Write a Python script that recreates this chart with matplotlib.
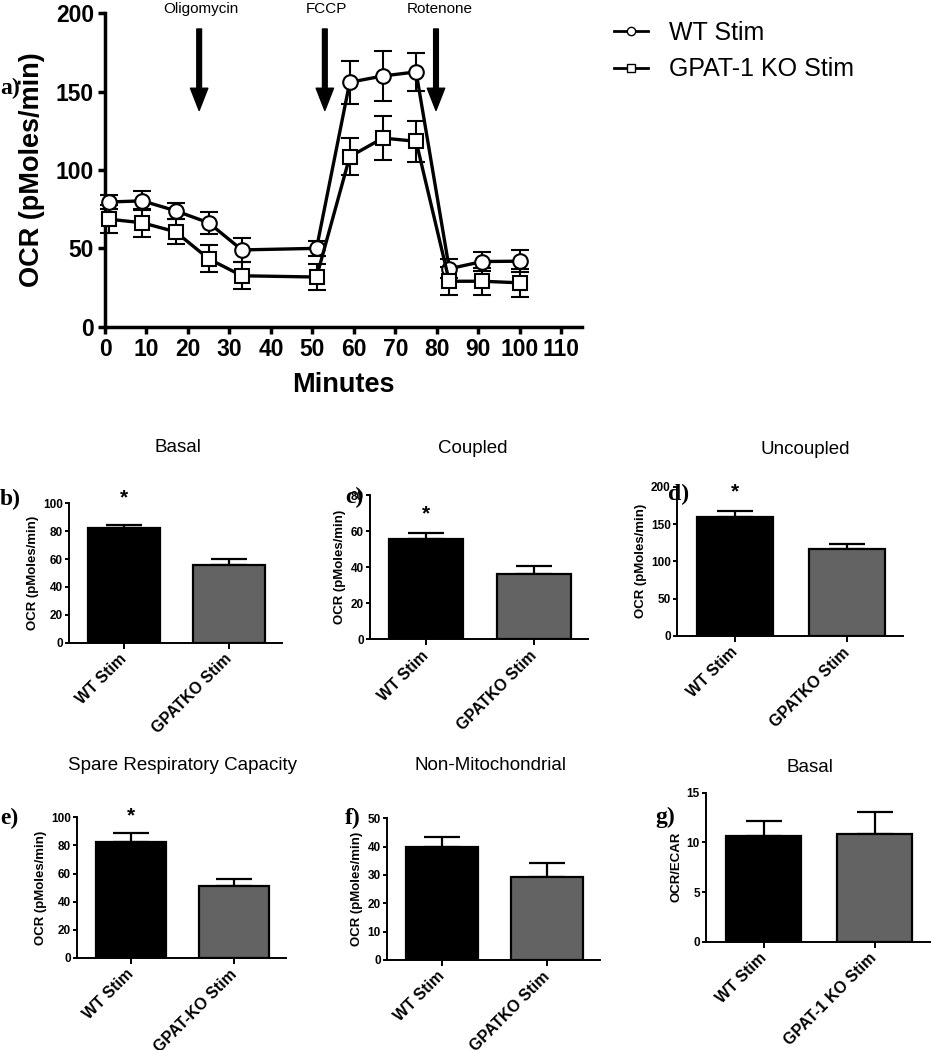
import matplotlib
matplotlib.use('Agg')
import matplotlib.pyplot as plt
from matplotlib.lines import Line2D

plt.rcParams['font.family'] = ['Liberation Sans', 'DejaVu Sans']

# time course (panel a)
minutes = [1, 9, 17, 25, 33, 51, 59, 67, 75, 83, 91, 100]
wt_ocr = [79.6, 80.3, 74.0, 66.3, 49.0, 50.0, 156.0, 160.0, 162.6, 37.0, 41.6, 41.8]
wt_err = [4.5, 6.0, 5.0, 7.0, 7.5, 5.0, 13.7, 16.0, 12.0, 6.0, 6.0, 7.0]
ko_ocr = [68.6, 66.3, 60.6, 43.3, 32.5, 31.7, 108.5, 120.4, 118.3, 29.0, 29.0, 28.0]
ko_err = [9.0, 9.0, 8.0, 8.6, 8.5, 8.5, 11.7, 14.0, 13.0, 9.0, 8.5, 9.0]

injections = ['Oligomycin', 'FCCP', 'Rotenone']
inj_minutes = [22.7, 53.0, 79.8]
inj_label_x = [23.1, 53.5, 80.6]

# bar panels (b-g)
groups = ['WT Stim', 'GPAT-1 KO Stim']
basal_mean = [82.0, 55.7]
basal_sem = [2.5, 4.0]
coupled_mean = [55.6, 36.2]
coupled_sem = [3.5, 4.8]
uncoupled_mean = [159.8, 116.5]
uncoupled_sem = [8.0, 7.0]
spare_mean = [82.7, 51.5]
spare_sem = [6.0, 4.5]
nonmito_mean = [40.0, 29.2]
nonmito_sem = [3.5, 5.0]
ratio_mean = [10.64, 10.8]
ratio_sem = [1.5, 2.3]

W, H = 931, 1050
fig = plt.figure(figsize=(W / 100, H / 100), dpi=100)


def frac(l, t, r, b):
    return [l / W, 1 - b / H, (r - l) / W, (b - t) / H]


def figtext(x, y, s, **kw):
    fig.text(x / W, 1 - y / H, s, **kw)


# ---- panel a ----
ax = fig.add_axes(frac(105, 13.3, 582, 326.7))
ax.errorbar(minutes, wt_ocr, yerr=wt_err, color='black', lw=2.4, marker='o', ms=10.5,
            mfc='white', mec='black', mew=1.5, capsize=6.5, elinewidth=1.5,
            capthick=1.5, clip_on=False, zorder=3)
ax.errorbar(minutes, ko_ocr, yerr=ko_err, color='black', lw=2.4, marker='s', ms=10.5,
            mfc='white', mec='black', mew=1.5, capsize=6.5, elinewidth=1.5,
            capthick=1.5, clip_on=False, zorder=3)

for xm, xl, name in zip(inj_minutes, inj_label_x, injections):
    ax.annotate('', xy=(xm, 138), xytext=(xm, 190),
                arrowprops=dict(facecolor='black', edgecolor='black', width=3.4,
                                headwidth=12.5, headlength=16, shrink=0))
    ax.text(xl, 203, name, ha='center', va='center', fontsize=11, clip_on=False)

ax.set_xlim(0, 115)
ax.set_ylim(0, 200)
ax.set_xticks(range(0, 111, 10))
ax.set_yticks(range(0, 201, 50))
for s in ['top', 'right']:
    ax.spines[s].set_visible(False)
for s in ['left', 'bottom']:
    ax.spines[s].set_linewidth(2.5)
ax.tick_params(width=2.5, length=5, labelsize=16.5, pad=3)
plt.setp(ax.get_xticklabels() + ax.get_yticklabels(), fontweight='bold')
ax.set_xlabel('Minutes', fontsize=19.5, fontweight='bold', labelpad=8)
ax.set_ylabel('OCR (pMoles/min)', fontsize=19.5, fontweight='bold', labelpad=8)

handles = [Line2D([], [], color='black', lw=2, marker='o', ms=6, mfc='white', mec='black'),
           Line2D([], [], color='black', lw=2, marker='s', ms=6, mfc='white', mec='black')]
fig.legend(handles, ['WT Stim', 'GPAT-1 KO Stim'], loc='upper left',
           bbox_to_anchor=(614 / W, 1 - 21 / H), frameon=False, fontsize=18,
           handlelength=1.35, handletextpad=0.85, labelspacing=0.5, borderpad=0,
           borderaxespad=0)

figtext(0, 88, 'a)', fontsize=17, fontweight='bold', family='Liberation Serif', va='center')


# ---- bar panels ----
def bar_panel(rect, means, sems, ticklabels, ylim, step, ylabel, star_y=None):
    bx = fig.add_axes(rect)
    pos = [0, 1]
    bx.bar(pos, means, width=0.68, color=['black', '#636363'], edgecolor='black',
           linewidth=1.6, zorder=2)
    bx.errorbar(pos, means, yerr=[[0, 0], sems], fmt='none', ecolor='black',
                elinewidth=1.6, capsize=13, capthick=1.6, zorder=1)
    if star_y is not None:
        bx.text(0, star_y, '*', ha='center', va='center', fontsize=15,
                fontweight='bold', clip_on=False)
    bx.set_xlim(-0.52, 1.5)
    bx.set_ylim(0, ylim)
    bx.set_yticks(range(0, ylim + 1, step))
    bx.set_xticks(pos)
    bx.set_xticklabels(ticklabels, rotation=45, ha='right', va='center',
                       rotation_mode='anchor', fontsize=11.5, fontweight='bold')
    plt.setp(bx.get_yticklabels(), fontweight='bold')
    for s in ['top', 'right']:
        bx.spines[s].set_visible(False)
    for s in ['left', 'bottom']:
        bx.spines[s].set_linewidth(1.4)
    bx.tick_params(axis='y', width=1.4, length=3, labelsize=8.5, pad=1.5)
    bx.tick_params(axis='x', width=1.4, length=4, pad=6)
    bx.set_ylabel(ylabel, fontsize=9.5, fontweight='bold', labelpad=3)
    return bx


ocr_lab = 'OCR (pMoles/min)'
bar_panel(frac(69, 503.3, 282, 642.7), basal_mean, basal_sem,
          ['WT Stim', 'GPATKO Stim'], 100, 20, ocr_lab, star_y=103.6)
bar_panel(frac(370, 495.3, 588, 639.3), coupled_mean, coupled_sem,
          ['WT Stim', 'GPATKO Stim'], 80, 20, ocr_lab, star_y=69.5)
bar_panel(frac(677, 486.7, 903, 636), uncoupled_mean, uncoupled_sem,
          ['WT Stim', 'GPATKO Stim'], 200, 50, ocr_lab, star_y=193)
bar_panel(frac(77, 817.3, 286, 958), spare_mean, spare_sem,
          ['WT Stim', 'GPAT-KO Stim'], 100, 20, ocr_lab, star_y=101)
bar_panel(frac(387, 818.3, 600, 960), nonmito_mean, nonmito_sem,
          ['WT Stim', 'GPATKO Stim'], 50, 10, ocr_lab)
bar_panel(frac(706, 792.7, 930, 941.7), ratio_mean, ratio_sem,
          groups, 15, 5, 'OCR/ECAR')

titles = [('Basal', 178, 447), ('Coupled', 473, 448), ('Uncoupled', 805, 449),
          ('Spare Respiratory Capacity', 182, 765), ('Non-Mitochondrial', 490, 765),
          ('Basal', 810, 767)]
for t, x, y in titles:
    figtext(x, y, t, fontsize=13.5, ha='center', va='center')

panel_tags = [('b)', 0, 499), ('c)', 345, 497), ('d)', 668, 494),
              ('e)', 0, 818), ('f)', 345, 818), ('g)', 655, 817)]
for t, x, y in panel_tags:
    figtext(x, y, t, fontsize=17, fontweight='bold', family='Liberation Serif',
            va='center')

fig.savefig('out.png', dpi=100)
